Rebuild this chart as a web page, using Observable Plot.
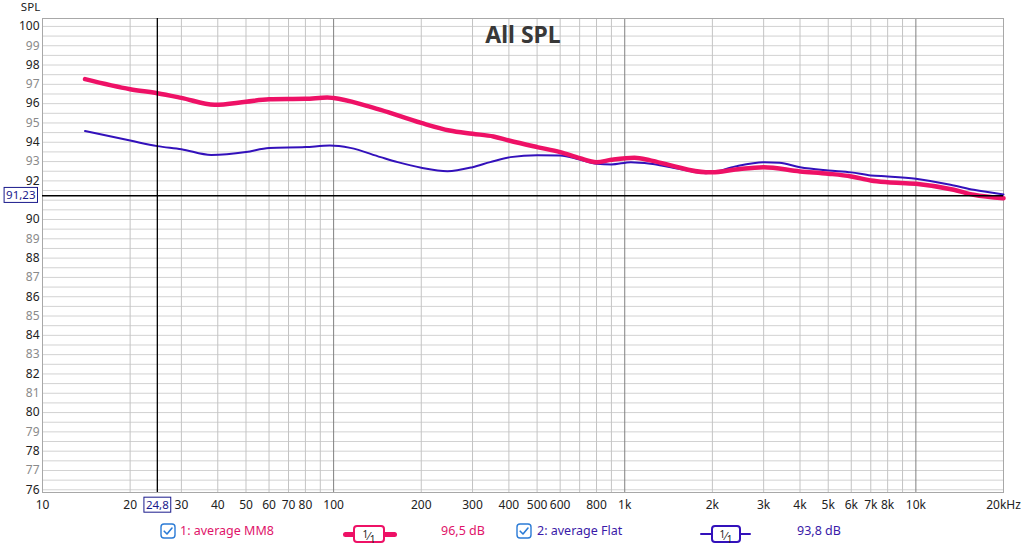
<!DOCTYPE html>
<html>
<head>
<meta charset="utf-8">
<script src="https://cdn.jsdelivr.net/npm/d3@7"></script>
<script src="https://cdn.jsdelivr.net/npm/@observablehq/plot@0.6"></script>
<style>
  html, body { margin: 0; padding: 0; background: #fff; }
  body { width: 1024px; height: 544px; overflow: hidden; font-family: "Noto Sans", "Open Sans", sans-serif; }
  #chart svg { display: block; }
  #legend { position: relative; width: 1024px; height: 26px; font-size: 12.5px; }
  #legend .it { position: absolute; top: 0; height: 26px; line-height: 26px; white-space: nowrap; }
  .frac { position: absolute; background: #fff; border-radius: 4px; box-sizing: border-box; font-size: 11px; color: #222; text-align: center; line-height: 15px; }
  .frac sup { font-size: 10px; vertical-align: 2px; }
  .frac sub { font-size: 10px; vertical-align: -3px; }
</style>
</head>
<body>
<div id="chart"></div>
<div id="legend"></div>
<script>
// ---- data ----
const freqMM8 = [14, 20, 24.8, 30, 39, 50, 60, 80, 95, 100, 129, 145, 200, 250, 300, 354, 400, 500, 600, 700, 800, 900, 1080, 1225, 1440, 1900, 2000, 2400, 3000, 4000, 5000, 6000, 7000, 8000, 10000, 13500, 15800, 20000];
const splMM8  = [97.27, 96.75, 96.54, 96.3, 95.94, 96.1, 96.23, 96.25, 96.32, 96.29, 95.9, 95.68, 95.0, 94.61, 94.44, 94.3, 94.09, 93.75, 93.49, 93.18, 92.97, 93.09, 93.2, 93.06, 92.8, 92.45, 92.45, 92.59, 92.71, 92.49, 92.37, 92.23, 92.02, 91.93, 91.85, 91.54, 91.28, 91.1];

const freqFlat = [14, 20, 24.8, 30, 38, 50, 60, 80, 97, 114, 145, 166, 200, 246, 300, 345, 405, 500, 600, 700, 800, 900, 1050, 1225, 1440, 1900, 2000, 2400, 3000, 3400, 4000, 5000, 6000, 7000, 8000, 10000, 13500, 15800, 20000];
const splFlat  = [94.58, 94.09, 93.8, 93.64, 93.34, 93.49, 93.7, 93.75, 93.83, 93.71, 93.23, 92.97, 92.68, 92.5, 92.71, 92.97, 93.23, 93.33, 93.32, 93.11, 92.89, 92.85, 92.97, 92.89, 92.71, 92.4, 92.44, 92.75, 92.97, 92.94, 92.71, 92.54, 92.44, 92.28, 92.23, 92.11, 91.76, 91.54, 91.3];

const xTickValues = [10, 20, 30, 40, 50, 60, 70, 80, 100, 200, 300, 400, 500, 600, 800, 1000, 2000, 3000, 4000, 5000, 6000, 7000, 8000, 10000, 20000];
const xTickLabels = ["10", "20", "30", "40", "50", "60", "70", "80", "100", "200", "300", "400", "500", "600", "800", "1k", "2k", "3k", "4k", "5k", "6k", "7k", "8k", "10k", "20kHz"];
const minorGridX = [20, 30, 40, 50, 60, 70, 80, 90, 200, 300, 400, 500, 600, 700, 800, 900, 2000, 3000, 4000, 5000, 6000, 7000, 8000, 9000];
const majorGridX = [100, 1000, 10000];
const yTickValues = [76, 77, 78, 79, 80, 81, 82, 83, 84, 85, 86, 87, 88, 89, 90, 92, 93, 94, 95, 96, 97, 98, 99, 100];
const gridY = [76, 76.5, 77, 77.5, 78, 78.5, 79, 79.5, 80, 80.5, 81, 81.5, 82, 82.5, 83, 83.5, 84, 84.5, 85, 85.5, 86, 86.5, 87, 87.5, 88, 88.5, 89, 89.5, 90, 90.5, 91, 91.5, 92, 92.5, 93, 93.5, 94, 94.5, 95, 95.5, 96, 96.5, 97, 97.5, 98, 98.5, 99, 99.5, 100];
const cursorFreq = 24.8;
const cursorSpl = 91.23;
const legendNames = ["1: average MM8", "2: average Flat"];
const legendValues = ["96,5 dB", "93,8 dB"];

const red = "#ee1166";
const blue = "#3311bb";

const mm8 = freqMM8.map((f, i) => ({f, v: splMM8[i]}));
const flat = freqFlat.map((f, i) => ({f, v: splFlat[i]}));
const evenTicks = yTickValues.filter(d => d % 2 === 0);
const oddTicks = yTickValues.filter(d => d % 2 !== 0);

const font = "Noto Sans, Open Sans, sans-serif";

const plot = Plot.plot({
  width: 1024,
  height: 518,
  marginLeft: 42,
  marginRight: 21,
  marginTop: 18,
  marginBottom: 26,
  style: {fontFamily: font, background: "#fff", overflow: "visible"},
  x: {type: "log", domain: [10, 20000], axis: null},
  y: {domain: [75.86, 100.41], axis: null},
  marks: [
    Plot.ruleY(gridY, {y: d => d, stroke: "#d2d2d2", strokeWidth: 1}),
    Plot.ruleX(minorGridX, {x: d => d, stroke: "#c4c4c4", strokeWidth: 1}),
    Plot.ruleX(majorGridX, {x: d => d, stroke: "#808080", strokeWidth: 1}),
    Plot.frame({stroke: "#a8a8a8"}),
    Plot.text(["All SPL"], {frameAnchor: "top", dy: 17, text: d => d, fontSize: 23, fontWeight: "bold", fill: "#383838", lineAnchor: "middle"}),
    Plot.line(flat, {x: "f", y: "v", stroke: blue, strokeWidth: 2, curve: "monotone-x"}),
    Plot.line(mm8, {x: "f", y: "v", stroke: red, strokeWidth: 4.5, curve: "monotone-x"}),
    Plot.ruleX([cursorFreq], {x: d => d, stroke: "#000", strokeWidth: 1.3}),
    Plot.ruleY([cursorSpl], {y: d => d, stroke: "#000", strokeWidth: 1.3}),
    Plot.text(evenTicks, {y: d => d, text: d => String(d), frameAnchor: "left", textAnchor: "end", dx: -3, fill: "#222", fontSize: 12}),
    Plot.text(oddTicks, {y: d => d, text: d => String(d), frameAnchor: "left", textAnchor: "end", dx: -3, fill: "#8a8a8a", fontSize: 12}),
    Plot.text(xTickValues, {x: d => d, text: (d, i) => xTickLabels[i], frameAnchor: "bottom", dy: 13, fill: "#222", fontSize: 12, lineAnchor: "middle"}),
    Plot.text(["SPL"], {frameAnchor: "top-left", dx: -12, dy: -11, text: d => d, fill: "#222", fontSize: 11.5, textAnchor: "middle", lineAnchor: "middle"}),
    Plot.text([cursorSpl], {y: d => d, text: d => String(d).replace(".", ","), frameAnchor: "left", textAnchor: "end", dx: -7, fill: "#1a1a8c", fontSize: 11.5, className: "cursorlabel"}),
    Plot.text([cursorFreq], {x: d => d, text: d => String(d).replace(".", ","), frameAnchor: "bottom", dy: 13, fill: "#1a1a8c", fontSize: 11.5, lineAnchor: "middle", className: "cursorlabel"})
  ]
});
document.getElementById("chart").appendChild(plot);

// boxes behind the cursor labels
document.querySelectorAll("g.cursorlabel text").forEach(t => {
  const b = t.getBBox();
  const r = document.createElementNS("http://www.w3.org/2000/svg", "rect");
  r.setAttribute("x", b.x - 2);
  r.setAttribute("y", b.y);
  r.setAttribute("width", b.width + 4);
  r.setAttribute("height", b.height);
  r.setAttribute("fill", "#fff");
  r.setAttribute("stroke", "#1a1a8c");
  r.setAttribute("stroke-width", 1);
  const tr = t.getAttribute("transform");
  if (tr) r.setAttribute("transform", tr);
  t.parentNode.insertBefore(r, t);
});

// legend
const legend = document.getElementById("legend");
function checkbox(left) {
  const d = document.createElement("div");
  d.className = "it";
  d.style.left = left + "px";
  d.innerHTML = '<svg width="16" height="26" viewBox="0 0 16 26"><rect x="1" y="6" width="14" height="14" rx="3" fill="#fff" stroke="#2b7bd6" stroke-width="1.4"/><path d="M4.2 13.2 L7 16 L12 10" fill="none" stroke="#2b7bd6" stroke-width="1.6" stroke-linecap="round" stroke-linejoin="round"/></svg>';
  legend.appendChild(d);
}
function label(left, text, color) {
  const d = document.createElement("div");
  d.className = "it";
  d.style.left = left + "px";
  d.style.color = color;
  d.textContent = text;
  legend.appendChild(d);
}
function sample(left, width, boxLeft, boxWidth, color, lw, bw) {
  const line = document.createElement("div");
  line.style.cssText = `position:absolute;left:${left}px;width:${width}px;top:${16 - lw / 2}px;height:${lw}px;background:${color};border-radius:${lw/2}px;`;
  legend.appendChild(line);
  const box = document.createElement("div");
  box.className = "frac";
  box.style.cssText += `left:${boxLeft}px;width:${boxWidth}px;top:7px;height:18px;border:${bw}px solid ${color};`;
  box.innerHTML = '<sup>1</sup>&frasl;<sub>1</sub>';
  legend.appendChild(box);
}
checkbox(160);
label(180, legendNames[0], "#e0146a");
sample(343, 54, 353, 32, red, 5, 2.5);
label(441, legendValues[0], "#e0146a");
checkbox(516);
label(537, legendNames[1], "#3a1aa8");
sample(700, 51, 711, 30, blue, 2, 2);
label(797, legendValues[1], "#3a1aa8");
</script>
</body>
</html>
